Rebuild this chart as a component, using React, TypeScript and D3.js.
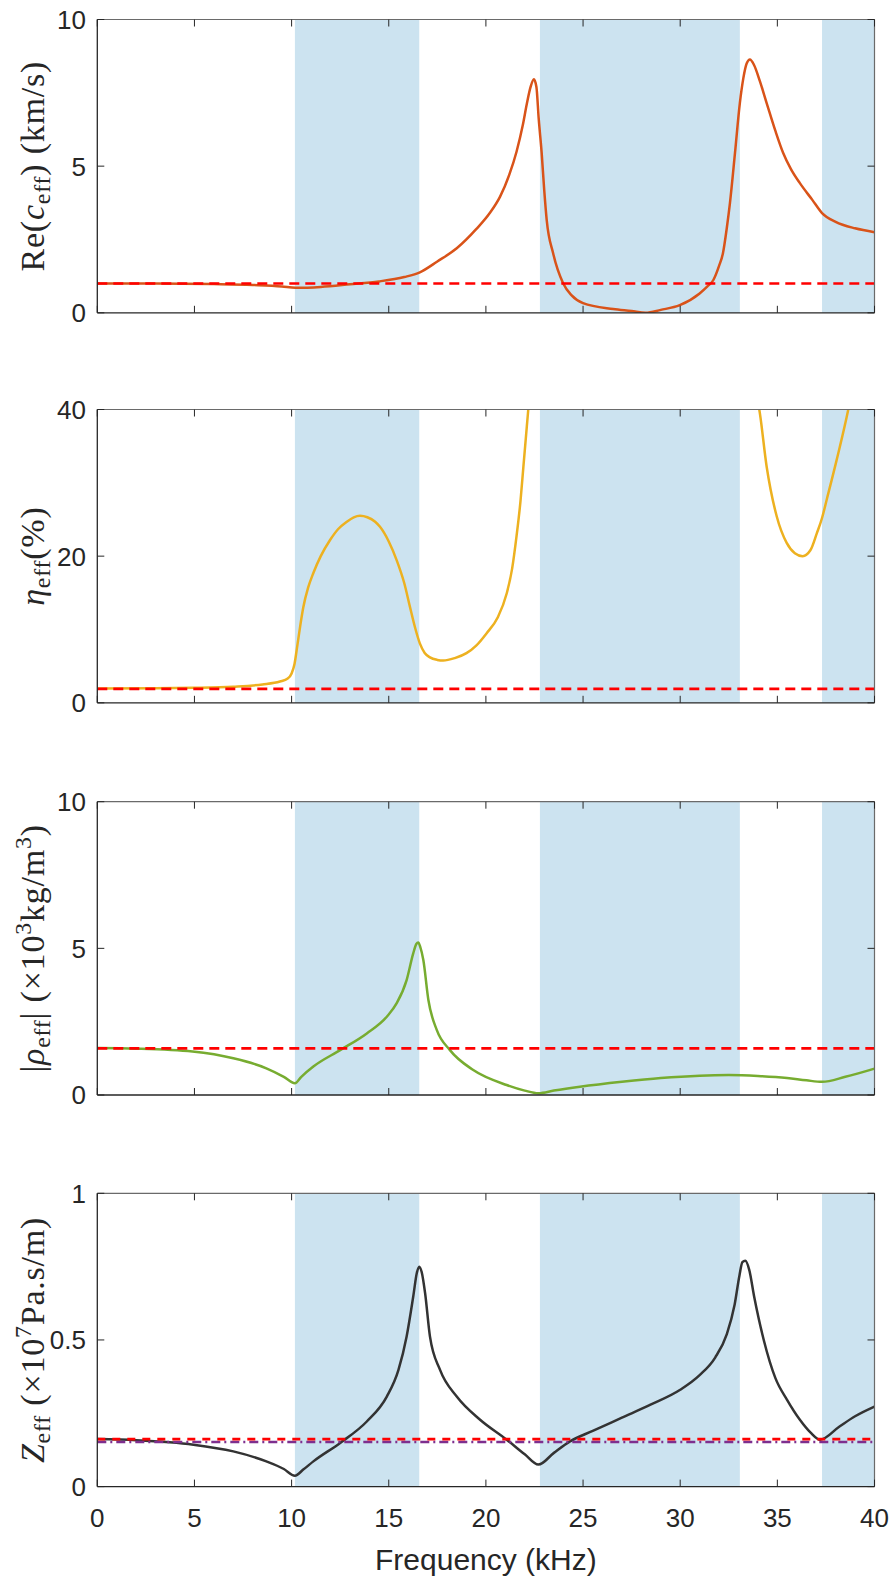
import React from 'react';
import * as d3 from 'd3';

// ---------- data ----------
const xTicks = [0, 5, 10, 15, 20, 25, 30, 35, 40];
const bands: [number, number][] = [[10.17, 16.57], [22.78, 33.07], [37.3, 40]];

// Panel 1: Re(c_eff) (km/s)
const cFreq = [0, 3, 6, 8, 9.5, 10.2, 11.5, 13, 14.5, 15.8, 16.6, 17.5, 18.5, 19.5, 20.2, 20.73, 21.2, 21.58, 21.9, 22.1, 22.3, 22.47, 22.6, 22.72, 22.87, 23.0, 23.13, 23.46, 23.98, 24.4, 25.0, 26.55, 27.5, 28.22, 29.0, 29.98, 31.0, 31.4, 31.7, 32.0, 32.2, 32.4, 32.56, 32.82, 33.07, 33.25, 33.42, 33.59, 33.8, 34.1, 34.45, 34.9, 35.3, 35.7, 36.16, 36.8, 37.3, 38, 39, 40];
const cRe = [1.0, 1.0, 0.98, 0.95, 0.9, 0.85, 0.88, 0.97, 1.07, 1.22, 1.38, 1.75, 2.2, 2.85, 3.4, 3.96, 4.7, 5.5, 6.4, 7.1, 7.7, 7.96, 7.7, 6.6, 5.45, 4.2, 3.16, 2.03, 1.0, 0.6, 0.33, 0.13, 0.06, 0.0, 0.1, 0.26, 0.66, 0.9, 1.11, 1.6, 2.03, 2.9, 3.74, 5.45, 7.15, 8.0, 8.5, 8.64, 8.45, 7.9, 7.15, 6.2, 5.45, 4.9, 4.42, 3.85, 3.4, 3.1, 2.88, 2.75];
const cRef = 1.0;

// Panel 2: eta_eff (%)
const etaFreq = [0, 3, 5, 7, 8.5, 9.4, 9.8, 10.0, 10.15, 10.3, 10.45, 10.6, 10.85, 11.12, 11.5, 11.98, 12.4, 12.84, 13.2, 13.52, 13.9, 14.3, 14.55, 15.0, 15.4, 15.8, 16.09, 16.35, 16.6, 16.85, 17.12, 17.5, 17.8, 18.4, 19.0, 19.5, 20.04, 20.6, 21.07, 21.35, 21.58, 21.78, 21.93, 22.1, 22.18, 22.3, 28, 34.0, 34.07, 34.45, 34.97, 35.48, 35.9, 36.3, 36.7, 37.03, 37.3, 37.54, 38.05, 38.65, 38.8];
const eta: (number | null)[] = [1.95, 2.0, 2.05, 2.2, 2.5, 2.9, 3.3, 4.0, 5.3, 7.9, 10.6, 13.0, 15.7, 17.7, 20.0, 22.2, 23.7, 24.7, 25.3, 25.5, 25.3, 24.7, 24.0, 22.0, 19.5, 16.3, 13.1, 10.3, 8.1, 6.8, 6.2, 5.85, 5.76, 6.1, 6.77, 7.8, 9.5, 11.6, 14.9, 18.3, 22.8, 27.5, 32.2, 37.5, 40, 45, null, 41, 40, 32.2, 25.4, 21.8, 20.4, 20.0, 20.8, 23.1, 25.2, 27.7, 33.1, 40, 42];
const etaRef = 1.9;

// Panel 3: |rho_eff| (x10^3 kg/m^3)
const rhoFreq = [0, 2, 4.9, 7.0, 8.7, 9.6, 10.17, 10.5, 11.12, 12.5, 13.87, 14.9, 15.41, 15.92, 16.26, 16.42, 16.52, 16.62, 16.78, 17.04, 17.47, 18.15, 19.35, 21.07, 22.0, 22.7, 23.5, 24.84, 27, 29, 31, 32.5, 34, 35.5, 36.5, 37.3, 38.5, 40];
const rho = [1.6, 1.58, 1.48, 1.25, 0.91, 0.62, 0.4, 0.62, 0.97, 1.53, 2.1, 2.67, 3.13, 3.92, 4.83, 5.15, 5.2, 5.05, 4.6, 3.24, 2.22, 1.53, 0.85, 0.34, 0.15, 0.06, 0.15, 0.28, 0.45, 0.58, 0.66, 0.68, 0.65, 0.58, 0.5, 0.45, 0.62, 0.9];
const rhoRef = 1.59;

// Panel 4: Z_eff (x10^7 Pa.s/m)
const zFreq = [0, 2, 4.95, 7.0, 8.7, 9.6, 10.17, 10.6, 11.12, 12.5, 13.87, 14.9, 15.5, 15.92, 16.26, 16.45, 16.57, 16.7, 16.87, 17.12, 17.64, 18.5, 19.7, 21.07, 22.0, 22.7, 23.5, 24.33, 25.5, 27, 28.5, 30, 31, 31.8, 32.4, 32.8, 33.05, 33.2, 33.35, 33.55, 33.8, 34.3, 34.9, 35.5, 36.16, 36.7, 37.2, 38.2, 39, 40];
const zEff = [0.162, 0.158, 0.143, 0.12, 0.086, 0.06, 0.037, 0.058, 0.086, 0.149, 0.222, 0.307, 0.398, 0.512, 0.648, 0.73, 0.75, 0.73, 0.66, 0.512, 0.398, 0.307, 0.228, 0.16, 0.11, 0.075, 0.115, 0.154, 0.19, 0.235, 0.28, 0.33, 0.38, 0.44, 0.52, 0.62, 0.72, 0.765, 0.77, 0.74, 0.65, 0.5, 0.37, 0.296, 0.228, 0.185, 0.16, 0.205, 0.24, 0.273];
const zRefRed = 0.162;
const zRefPurple = 0.152;

// ---------- layout ----------
const W = 894, H = 1578;
const X0 = 97.3, X1 = 874.5;
const panelTops = [19.5, 409.5, 801.7, 1193.3];
const PH = 293.3;
const AX = '#262626';
const BAND = '#cce3f0';
const SANS = '"Liberation Sans", Arial, Helvetica, sans-serif';
const SERIF = '"Liberation Serif", "Times New Roman", serif';

const x = d3.scaleLinear().domain([0, 40]).range([X0, X1]);

type Seg = { t: string; it?: boolean; sub?: boolean; sup?: boolean };
type Panel = {
  ymax: number;
  yTicks: number[];
  series: { f: number[]; v: (number | null)[]; color: string }[];
  refs: { v: number; color: string; dash: string }[];
  label: Seg[];
};

function Label({ segs }: { segs: Seg[] }) {
  let prev = 0;
  return (
    <>
      {segs.map((s, k) => {
        const shift = s.sub ? 6 : s.sup ? -13 : 0;
        const dy = shift - prev;
        prev = shift;
        return (
          <tspan key={k} dy={dy || undefined} fontStyle={s.it ? 'italic' : undefined} fontSize={s.sub || s.sup ? '0.7em' : undefined}>
            {s.t}
          </tspan>
        );
      })}
    </>
  );
}

const panels: Panel[] = [
  {
    ymax: 10, yTicks: [0, 5, 10],
    series: [{ f: cFreq, v: cRe, color: '#D95319' }],
    refs: [{ v: cRef, color: '#FF0000', dash: '10,6' }],
    label: [{ t: 'Re(' }, { t: 'c', it: true }, { t: 'eff', sub: true }, { t: ') (km/s)' }],
  },
  {
    ymax: 40, yTicks: [0, 20, 40],
    series: [{ f: etaFreq, v: eta, color: '#EDB120' }],
    refs: [{ v: etaRef, color: '#FF0000', dash: '10,6' }],
    label: [{ t: 'η', it: true }, { t: 'eff', sub: true }, { t: '(%)' }],
  },
  {
    ymax: 10, yTicks: [0, 5, 10],
    series: [{ f: rhoFreq, v: rho, color: '#77AC30' }],
    refs: [{ v: rhoRef, color: '#FF0000', dash: '10,6' }],
    label: [{ t: '|' }, { t: 'ρ', it: true }, { t: 'eff', sub: true }, { t: '| (×10' }, { t: '3', sup: true }, { t: 'kg/m' }, { t: '3', sup: true }, { t: ')' }],
  },
  {
    ymax: 1, yTicks: [0, 0.5, 1],
    series: [{ f: zFreq, v: zEff, color: '#333333' }],
    refs: [
      { v: zRefPurple, color: '#7E2F8E', dash: '9,4,2,4' },
      { v: zRefRed, color: '#FF0000', dash: '8,7' },
    ],
    label: [{ t: 'Z', it: true }, { t: 'eff', sub: true }, { t: ' (×10' }, { t: '7', sup: true }, { t: 'Pa.s/m)' }],
  },
];

function PanelView({ p, i }: { p: Panel; i: number }) {
  const top = panelTops[i];
  const bottom = top + PH;
  const y = d3.scaleLinear().domain([0, p.ymax]).range([bottom, top]);
  const clipId = `clip${i}`;
  const isLast = i === panels.length - 1;
  const TL = 7;
  return (
    <g>
      <defs>
        <clipPath id={clipId}>
          <rect x={X0} y={top} width={X1 - X0} height={PH} />
        </clipPath>
      </defs>
      {bands.map(([a, b], k) => (
        <rect key={k} x={x(a)} y={top} width={x(b) - x(a)} height={PH} fill={BAND} />
      ))}
      <g clipPath={`url(#${clipId})`}>
        {p.series.map((s, k) => {
          const pts: [number, number | null][] = s.f.map((f, j) => [f, s.v[j]]);
          const line = d3.line<[number, number | null]>()
            .defined(d => d[1] !== null)
            .x(d => x(d[0]))
            .y(d => y(d[1] as number))
            .curve(d3.curveMonotoneX);
          return <path key={k} d={line(pts) || ''} fill="none" stroke={s.color} strokeWidth={2.5} strokeLinejoin="round" />;
        })}
        {p.refs.map((r, k) => (
          <line key={k} x1={X0} x2={X1} y1={y(r.v)} y2={y(r.v)} stroke={r.color} strokeWidth={2.6} strokeDasharray={r.dash} />
        ))}
      </g>
      {/* axes box */}
      <line x1={X0} x2={X1} y1={top} y2={top} stroke="#6a6a6a" strokeWidth={1.2} />
      <line x1={X1} x2={X1} y1={top} y2={bottom} stroke="#6a6a6a" strokeWidth={1.2} />
      <line x1={X0} x2={X1} y1={bottom} y2={bottom} stroke={AX} strokeWidth={1.3} />
      <line x1={X0} x2={X0} y1={top} y2={bottom} stroke={AX} strokeWidth={1.3} />
      {xTicks.map(t => (
        <g key={t}>
          <line x1={x(t)} x2={x(t)} y1={bottom} y2={bottom - TL} stroke={AX} strokeWidth={1} />
          <line x1={x(t)} x2={x(t)} y1={top} y2={top + TL} stroke={AX} strokeWidth={1} />
          {isLast && (
            <text x={x(t)} y={bottom + 40} textAnchor="middle" fontFamily={SANS} fontSize={26} fill={AX}>{t}</text>
          )}
        </g>
      ))}
      {p.yTicks.map(t => (
        <g key={t}>
          <line x1={X0} x2={X0 + TL} y1={y(t)} y2={y(t)} stroke={AX} strokeWidth={1} />
          <line x1={X1} x2={X1 - TL} y1={y(t)} y2={y(t)} stroke={AX} strokeWidth={1} />
          <text x={86} y={y(t)} dy="0.36em" textAnchor="end" fontFamily={SANS} fontSize={26} fill={AX}>{t}</text>
        </g>
      ))}
      <text transform={`translate(43.5,${(top + bottom) / 2}) rotate(-90)`} textAnchor="middle" fontFamily={SERIF} fontSize={34} letterSpacing={0.8} fill={AX}>
        <Label segs={p.label} />
      </text>
      {isLast && (
        <text x={(X0 + X1) / 2} y={1570} textAnchor="middle" fontFamily={SANS} fontSize={30} fill={AX}>Frequency (kHz)</text>
      )}
    </g>
  );
}

export default function App() {
  return (
    <div style={{ position: 'absolute', left: 0, top: 0 }}>
      <svg width={W} height={H} viewBox={`0 0 ${W} ${H}`} style={{ display: 'block', background: '#fff' }}>
        <rect width={W} height={H} fill="#fff" />
        {panels.map((p, i) => <PanelView key={i} p={p} i={i} />)}
      </svg>
    </div>
  );
}
